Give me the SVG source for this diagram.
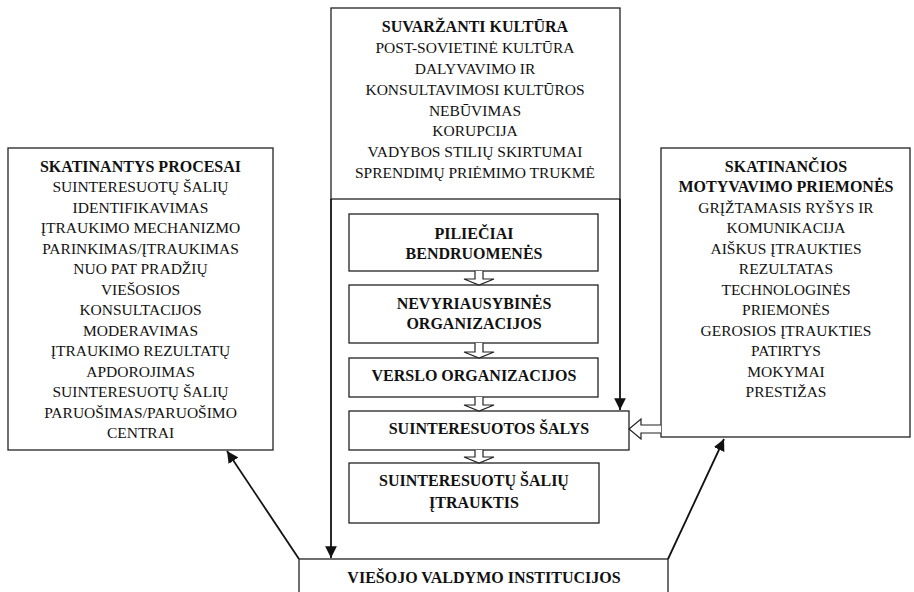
<svg xmlns="http://www.w3.org/2000/svg" width="914" height="592" viewBox="0 0 914 592">
  <defs>
    <style>
      .box { fill: #fff; stroke: #222; stroke-width: 1.3; }
      .t { font-family: "Liberation Serif", "Times New Roman", serif; font-size: 15.5px; fill: #111; text-anchor: middle; }
      .b { font-weight: bold; font-size: 16px; }
      .line { fill: none; stroke: #111; stroke-width: 1.8; }
      .hollow { fill: #fff; stroke: #222; stroke-width: 1.2; stroke-linejoin: miter; }
    </style>
    <marker id="head" viewBox="0 0 10 10" refX="10" refY="5" markerWidth="6.5" markerHeight="6.5" markerUnits="strokeWidth" orient="auto">
      <path d="M0,0 L10,5 L0,10 z" fill="#111"/>
    </marker>
  </defs>

  <rect width="914" height="592" fill="#fff"/>

  <!-- Constraining culture -->
  <g id="culture">
    <rect class="box" x="331" y="8" width="289" height="191"/>
    <text class="t b" x="475" y="32">SUVARŽANTI KULTŪRA</text>
    <text class="t" x="475" y="53">POST-SOVIETINĖ KULTŪRA</text>
    <text class="t" x="475" y="74">DALYVAVIMO IR</text>
    <text class="t" x="475" y="95">KONSULTAVIMOSI KULTŪROS</text>
    <text class="t" x="475" y="116">NEBŪVIMAS</text>
    <text class="t" x="475" y="136">KORUPCIJA</text>
    <text class="t" x="475" y="157">VADYBOS STILIŲ SKIRTUMAI</text>
    <text class="t" x="475" y="178">SPRENDIMŲ PRIĖMIMO TRUKMĖ</text>
  </g>

  <!-- Enabling processes -->
  <g id="processes">
    <rect class="box" x="8" y="148" width="265" height="302"/>
    <text class="t b" x="140.5" y="171.5">SKATINANTYS PROCESAI</text>
    <text class="t" x="140.5" y="192">SUINTERESUOTŲ ŠALIŲ</text>
    <text class="t" x="140.5" y="212.5">IDENTIFIKAVIMAS</text>
    <text class="t" x="140.5" y="233">ĮTRAUKIMO MECHANIZMO</text>
    <text class="t" x="140.5" y="253.5">PARINKIMAS/ĮTRAUKIMAS</text>
    <text class="t" x="140.5" y="274">NUO PAT PRADŽIŲ</text>
    <text class="t" x="140.5" y="294.5">VIEŠOSIOS</text>
    <text class="t" x="140.5" y="315">KONSULTACIJOS</text>
    <text class="t" x="140.5" y="335.5">MODERAVIMAS</text>
    <text class="t" x="140.5" y="356">ĮTRAUKIMO REZULTATŲ</text>
    <text class="t" x="140.5" y="376.5">APDOROJIMAS</text>
    <text class="t" x="140.5" y="397">SUINTERESUOTŲ ŠALIŲ</text>
    <text class="t" x="140.5" y="417.5">PARUOŠIMAS/PARUOŠIMO</text>
    <text class="t" x="140.5" y="438">CENTRAI</text>
  </g>

  <!-- Motivation measures -->
  <g id="motivation">
    <rect class="box" x="661" y="148" width="249" height="289"/>
    <text class="t b" x="786" y="171.5">SKATINANČIOS</text>
    <text class="t b" x="786" y="192">MOTYVAVIMO PRIEMONĖS</text>
    <text class="t" x="786" y="212.5">GRĮŽTAMASIS RYŠYS IR</text>
    <text class="t" x="786" y="233">KOMUNIKACIJA</text>
    <text class="t" x="786" y="253.5">AIŠKUS ĮTRAUKTIES</text>
    <text class="t" x="786" y="274">REZULTATAS</text>
    <text class="t" x="786" y="294.5">TECHNOLOGINĖS</text>
    <text class="t" x="786" y="315">PRIEMONĖS</text>
    <text class="t" x="786" y="335.5">GEROSIOS ĮTRAUKTIES</text>
    <text class="t" x="786" y="356">PATIRTYS</text>
    <text class="t" x="786" y="376.5">MOKYMAI</text>
    <text class="t" x="786" y="397">PRESTIŽAS</text>
  </g>

  <g id="citizens">
    <rect class="box" x="349" y="214" width="249" height="57"/>
    <text class="t b" x="474" y="238.5">PILIEČIAI</text>
    <text class="t b" x="474" y="258.5">BENDRUOMENĖS</text>
  </g>

  <g id="ngo">
    <rect class="box" x="349" y="285" width="249" height="58"/>
    <text class="t b" x="474" y="308.5">NEVYRIAUSYBINĖS</text>
    <text class="t b" x="474" y="328.5">ORGANIZACIJOS</text>
  </g>

  <g id="business">
    <rect class="box" x="349" y="358" width="249" height="39"/>
    <text class="t b" x="474" y="380.5">VERSLO ORGANIZACIJOS</text>
  </g>

  <g id="stakeholders">
    <rect class="box" x="349" y="411" width="280" height="39"/>
    <text class="t b" x="489" y="433.5">SUINTERESUOTOS ŠALYS</text>
  </g>

  <g id="engagement">
    <rect class="box" x="349" y="463" width="250" height="60"/>
    <text class="t b" x="474" y="485.5">SUINTERESUOTŲ ŠALIŲ</text>
    <text class="t b" x="474" y="507.5">ĮTRAUKTIS</text>
  </g>

  <g id="institutions">
    <rect class="box" x="299" y="559" width="369" height="50"/>
    <text class="t b" x="484" y="582.5">VIEŠOJO VALDYMO INSTITUCIJOS</text>
  </g>

  <g id="connectors">
    <!-- frame sides of the culture block continue down as arrows -->
    <line class="line" x1="331" y1="199" x2="331" y2="558" marker-end="url(#head)"/>
    <line class="line" x1="620" y1="199" x2="620" y2="410" marker-end="url(#head)"/>

    <!-- diagonal arrows from the institutions -->
    <line class="line" x1="299" y1="559" x2="227" y2="451" marker-end="url(#head)"/>
    <line class="line" x1="668" y1="559" x2="724" y2="439" marker-end="url(#head)"/>

    <!-- hollow block arrows between the stacked groups -->
    <path class="hollow" d="M475,271 V279 H464 L479,285 L494,279 H483 V271"/>
    <path class="hollow" d="M475,343 V352 H464 L479,358 L494,352 H483 V343"/>
    <path class="hollow" d="M475,397 V405 H464 L479,411 L494,405 H483 V397"/>
    <path class="hollow" d="M475,450 V457 H464 L479,463 L494,457 H483 V450"/>

    <!-- hollow arrow from motivation measures to stakeholders -->
    <path class="hollow" d="M661,425 H641 V419 L629,429 L641,439 V433 H661"/>
  </g>
</svg>
